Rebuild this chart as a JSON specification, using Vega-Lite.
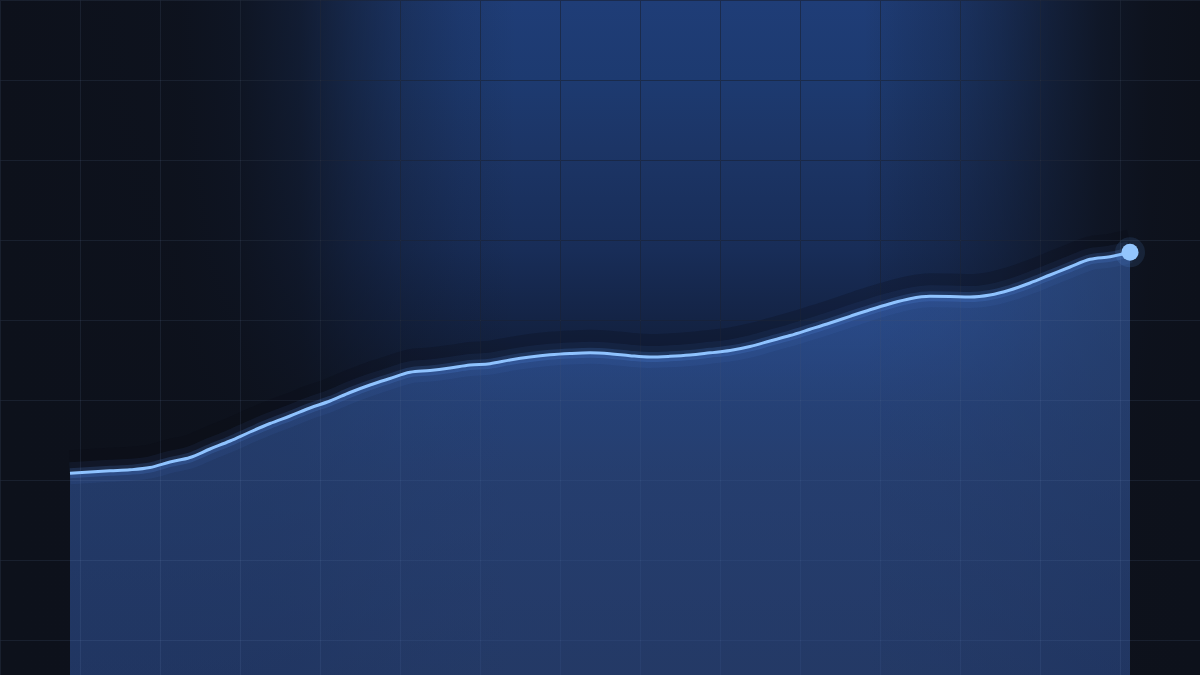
{
  "$schema": "https://vega.github.io/schema/vega-lite/v6.json",
  "width": 1200,
  "height": 675,
  "autosize": "none",
  "padding": 0,
  "background": "#0c101a",
  "config": {
    "view": {
      "stroke": null,
      "fill": {
        "gradient": "linear",
        "x1": 0, "y1": 0, "x2": 0, "y2": 1,
        "stops": [
          {"offset": 0, "color": "#1f3d77"},
          {"offset": 0.12, "color": "#1d3a70"},
          {"offset": 0.22, "color": "#1c3566"},
          {"offset": 0.37, "color": "#182d58"},
          {"offset": 0.47, "color": "#142446"},
          {"offset": 0.6, "color": "#101a2f"},
          {"offset": 0.7, "color": "#111726"},
          {"offset": 1, "color": "#121722"}
        ]
      }
    },
    "axis": {
      "grid": true,
      "gridWidth": 1,
      "labels": false,
      "ticks": false,
      "domain": false,
      "title": null
    }
  },
  "data": {
    "values": [
      {"t": 0, "v": 40.34}, {"t": 1, "v": 40.6}, {"t": 2, "v": 40.84}, {"t": 3, "v": 41.04},
      {"t": 4, "v": 41.5}, {"t": 5, "v": 42.6}, {"t": 6, "v": 43.5}, {"t": 7, "v": 45.2},
      {"t": 8, "v": 46.8}, {"t": 9, "v": 48.6}, {"t": 10, "v": 50.3}, {"t": 11, "v": 51.8},
      {"t": 12, "v": 53.4}, {"t": 13, "v": 54.8}, {"t": 14, "v": 56.5}, {"t": 15, "v": 58.0},
      {"t": 16, "v": 59.3}, {"t": 17, "v": 60.54}, {"t": 18, "v": 60.9}, {"t": 19, "v": 61.4},
      {"t": 20, "v": 62.0}, {"t": 21, "v": 62.26}, {"t": 22, "v": 63.0}, {"t": 23, "v": 63.6},
      {"t": 24, "v": 64.04}, {"t": 25, "v": 64.3}, {"t": 26, "v": 64.44}, {"t": 27, "v": 64.26},
      {"t": 28, "v": 63.86}, {"t": 29, "v": 63.6}, {"t": 30, "v": 63.74}, {"t": 31, "v": 64.0},
      {"t": 32, "v": 64.44}, {"t": 33, "v": 64.9}, {"t": 34, "v": 65.7}, {"t": 35, "v": 66.8},
      {"t": 36, "v": 67.9}, {"t": 37, "v": 69.14}, {"t": 38, "v": 70.4}, {"t": 39, "v": 71.74},
      {"t": 40, "v": 73.06}, {"t": 41, "v": 74.26}, {"t": 42, "v": 75.26}, {"t": 43, "v": 75.74},
      {"t": 44, "v": 75.7}, {"t": 45, "v": 75.6}, {"t": 46, "v": 76.0}, {"t": 47, "v": 77.0},
      {"t": 48, "v": 78.4}, {"t": 49, "v": 80.0}, {"t": 50, "v": 81.6}, {"t": 51, "v": 83.14},
      {"t": 52, "v": 83.66}, {"t": 53, "v": 84.54}
    ]
  },
  "resolve": {"axis": {"x": "independent", "y": "independent"}},
  "layer": [
    {
      "data": {"values": [{}]},
      "mark": {
        "type": "rect",
        "fill": {
          "gradient": "linear",
          "x1": 0, "y1": 0, "x2": 1, "y2": 0,
          "stops": [
            {"offset": 0, "color": "rgba(13,17,27,1)"},
            {"offset": 0.15, "color": "rgba(13,17,27,0.97)"},
            {"offset": 0.2, "color": "rgba(13,17,27,0.9)"},
            {"offset": 0.25, "color": "rgba(13,17,27,0.74)"},
            {"offset": 0.29, "color": "rgba(13,17,27,0.5)"},
            {"offset": 0.333, "color": "rgba(13,17,27,0.28)"},
            {"offset": 0.383, "color": "rgba(13,17,27,0.1)"},
            {"offset": 0.43, "color": "rgba(13,17,27,0)"},
            {"offset": 0.72, "color": "rgba(13,17,27,0)"},
            {"offset": 0.75, "color": "rgba(13,17,27,0.1)"},
            {"offset": 0.79, "color": "rgba(13,17,27,0.22)"},
            {"offset": 0.833, "color": "rgba(13,17,27,0.42)"},
            {"offset": 0.875, "color": "rgba(13,17,27,0.66)"},
            {"offset": 0.917, "color": "rgba(13,17,27,0.86)"},
            {"offset": 0.958, "color": "rgba(13,17,27,0.97)"},
            {"offset": 1, "color": "rgba(13,17,27,1)"}
          ]
        }
      },
      "encoding": {
        "x": {
          "datum": -3.5,
          "type": "quantitative",
          "scale": {"domain": [-3.5, 56.5], "nice": false, "zero": false},
          "axis": {"grid": true, "zindex": 0, "gridColor": "#050a19", "gridOpacity": 0.6, "values": [-3.5, 0.5, 4.5, 8.5, 12.5, 16.5, 20.5, 24.5, 28.5, 32.5, 36.5, 40.5, 44.5, 48.5, 52.5, 56.5]}
        },
        "x2": {"datum": 56.5},
        "y": {
          "datum": 0,
          "type": "quantitative",
          "scale": {"domain": [0, 135], "nice": false},
          "axis": {"grid": true, "zindex": 0, "gridColor": "#050a19", "gridOpacity": 0.6, "values": [135, 119, 103, 87, 71, 55, 39, 23, 7]}
        },
        "y2": {"datum": 135}
      }
    },
    {
      "mark": {"type": "line", "interpolate": "monotone", "color": "#070b14", "strokeWidth": 26, "opacity": 0.22, "yOffset": -10},
      "encoding": {
        "x": {"field": "t", "type": "quantitative", "axis": null},
        "y": {"field": "v", "type": "quantitative", "axis": null}
      }
    },
    {
      "mark": {
        "type": "area",
        "interpolate": "monotone",
        "fill": {
          "gradient": "linear",
          "x1": 0, "y1": 0, "x2": 0, "y2": 1,
          "stops": [
            {"offset": 0, "color": "rgba(72,128,228,0.42)"},
            {"offset": 1, "color": "rgba(66,116,218,0.37)"}
          ]
        }
      },
      "encoding": {
        "x": {
          "field": "t",
          "type": "quantitative",
          "axis": {"grid": true, "orient": "top", "zindex": 1, "gridColor": "#8caadc", "gridOpacity": 0.1, "values": [-3.5, 0.5, 4.5, 8.5, 12.5, 16.5, 20.5, 24.5, 28.5, 32.5, 36.5, 40.5, 44.5, 48.5, 52.5, 56.5]}
        },
        "y": {
          "field": "v",
          "type": "quantitative",
          "axis": {"grid": true, "orient": "right", "zindex": 1, "gridColor": "#8caadc", "gridOpacity": 0.1, "values": [135, 119, 103, 87, 71, 55, 39, 23, 7]}
        }
      }
    },
    {
      "mark": {"type": "line", "interpolate": "monotone", "color": "#4f8ef5", "strokeWidth": 22, "opacity": 0.07},
      "encoding": {
        "x": {"field": "t", "type": "quantitative", "axis": null},
        "y": {"field": "v", "type": "quantitative", "axis": null}
      }
    },
    {
      "mark": {"type": "line", "interpolate": "monotone", "color": "#5b9bff", "strokeWidth": 10, "opacity": 0.16},
      "encoding": {
        "x": {"field": "t", "type": "quantitative", "axis": null},
        "y": {"field": "v", "type": "quantitative", "axis": null}
      }
    },
    {
      "mark": {"type": "line", "interpolate": "monotone", "color": "#8fc3ff", "strokeWidth": 3},
      "encoding": {
        "x": {"field": "t", "type": "quantitative", "axis": null},
        "y": {"field": "v", "type": "quantitative", "axis": null}
      }
    },
    {
      "transform": [{"filter": "datum.t == 53"}],
      "mark": {"type": "circle", "color": "#60a5fa", "size": 900, "opacity": 0.12},
      "encoding": {
        "x": {"field": "t", "type": "quantitative", "axis": null},
        "y": {"field": "v", "type": "quantitative", "axis": null}
      }
    },
    {
      "transform": [{"filter": "datum.t == 53"}],
      "mark": {"type": "circle", "color": "#93c5fd", "size": 290, "opacity": 1},
      "encoding": {
        "x": {"field": "t", "type": "quantitative", "axis": null},
        "y": {"field": "v", "type": "quantitative", "axis": null}
      }
    }
  ]
}
